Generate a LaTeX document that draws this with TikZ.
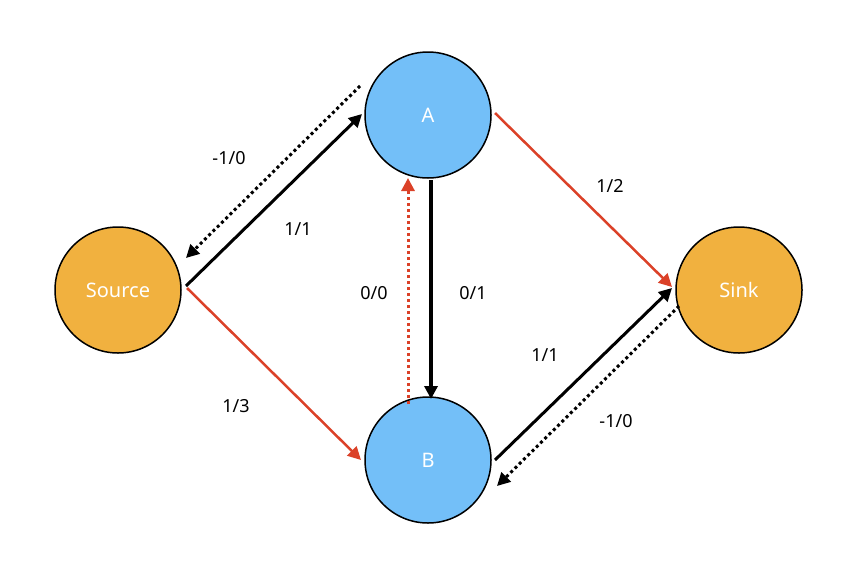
\documentclass[tikz,border=0pt]{standalone}
\usepackage{fontspec}
\setmainfont{Noto Sans}
\usetikzlibrary{arrows.meta}
\definecolor{org}{HTML}{F1B13F}
\definecolor{blu}{HTML}{73BFF8}
\definecolor{rd}{HTML}{DB4128}
\begin{document}
\begin{tikzpicture}[x=1pt,y=-1pt,
  nd/.style={circle,draw=black,line width=1.5pt,minimum size=126pt,inner sep=0pt,text=white,font=\fontsize{20}{24}\selectfont},
  lb/.style={font=\fontsize{18}{22}\selectfont},
  blk/.style={line width=3pt,-{Triangle[length=13pt,width=13pt]}},
  red/.style={draw=rd,line width=2.5pt,-{Triangle[length=13pt,width=13pt]},color=rd},
  dot/.style={line width=3pt,dash pattern=on 3pt off 3pt,-{Triangle[length=13pt,width=13pt]}}]
\useasboundingbox (0,0) rectangle (850,584);
\node[nd,fill=org] (S) at (118,290) {Source};
\node[nd,fill=blu] (A) at (428,115) {A};
\node[nd,fill=blu] (B) at (428,460) {B};
\node[nd,fill=org] (T) at (739,290) {Sink};
\coordinate (s1) at (186,286); \coordinate (a1) at (362,114);
\draw[blk] (s1) -- (a1);
\coordinate (a2) at (360,86); \coordinate (s2) at (186,258);
\draw[dot] (a2) -- (s2);
\coordinate (s3) at (187,288); \coordinate (b3) at (361,460);
\draw[red] (s3) -- (b3);
\coordinate (a4) at (495,113); \coordinate (t4) at (672,287);
\draw[red] (a4) -- (t4);
\coordinate (a5) at (431,180); \coordinate (b5) at (431,399);
\draw[blk,line width=4pt] (a5) -- (b5);
\coordinate (b6) at (408,404); \coordinate (a6) at (408,178);
\draw[dot,color=rd] (b6) -- (a6);
\coordinate (b7) at (495,460); \coordinate (t7) at (672,288);
\draw[blk] (b7) -- (t7);
\coordinate (t8) at (679,306); \coordinate (b8) at (497,486);
\draw[dot] (t8) -- (b8);
\node[lb] (l1) at (229,158) {-1/0};
\node[lb] (l2) at (298,229) {1/1};
\node[lb] (l3) at (236,406) {1/3};
\node[lb] (l4) at (610,186) {1/2};
\node[lb] (l5) at (374,293) {0/0};
\node[lb] (l6) at (473,293) {0/1};
\node[lb] (l7) at (545,355) {1/1};
\node[lb] (l8) at (616,421) {-1/0};
\end{tikzpicture}
\end{document}
